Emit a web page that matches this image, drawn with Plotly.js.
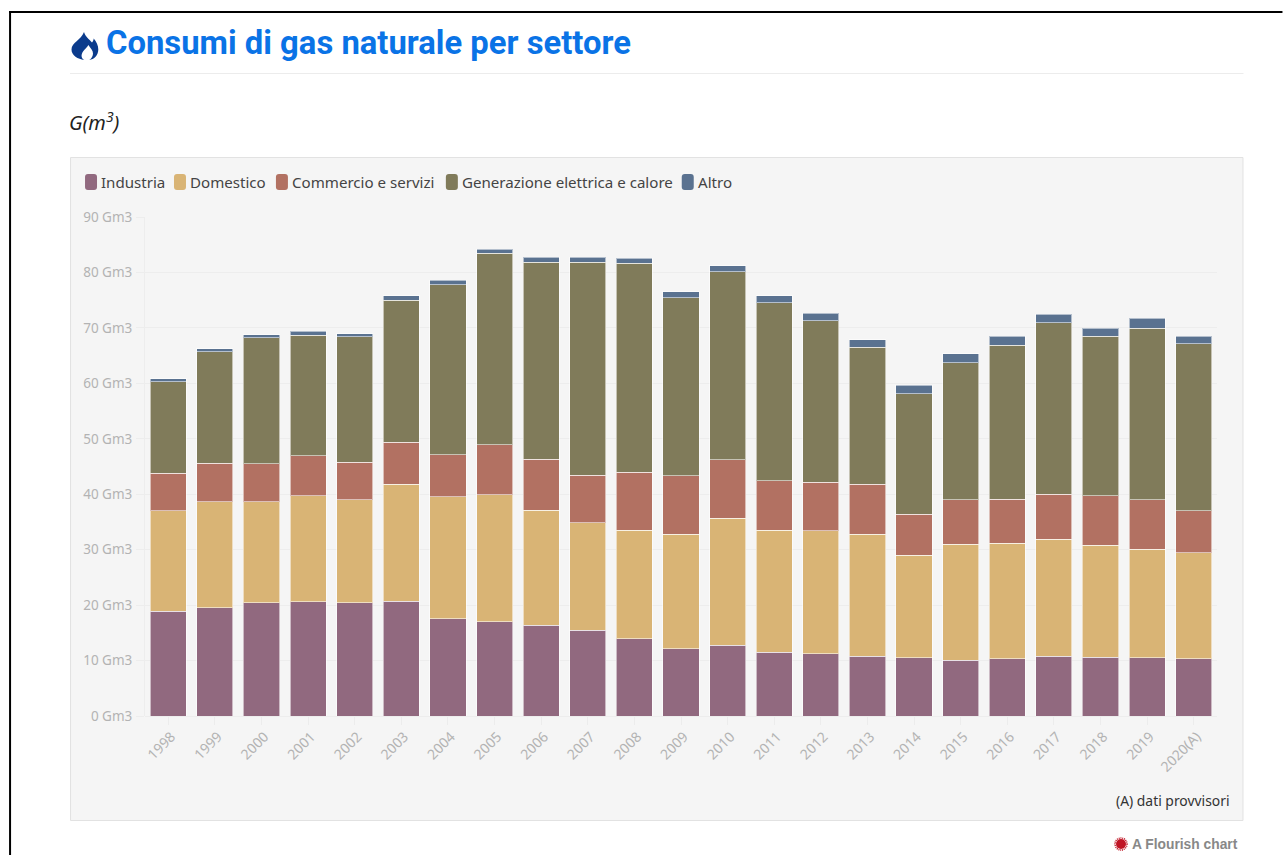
<!DOCTYPE html>
<html><head><meta charset="utf-8">
<script src="https://cdn.plot.ly/plotly-3.0.1.min.js"></script>
<style>html,body{margin:0;padding:0;background:#fff;overflow:hidden}
#c{position:absolute;left:0;top:0;width:1283px;height:855px}
svg.o{position:absolute;pointer-events:none}</style></head>
<body><div id="c"></div>
<svg class="o" style="left:70px;top:31px" width="30" height="30" viewBox="0 0 30 30"><path fill="#0b3b8c" d="M14 1c1.500 5 5 7 8 10.500 1.200-1.200 1.600-2.600 1.700-3.900 2.800 3.300 4.600 7 4.600 11 0 5.800-4.200 10-9 10.400 2.400-1.600 3.700-4 3.700-6.500 0-3.400-2.600-5.600-4.600-8.600-1 2-3.400 3.800-5 6-1.300 1.800-2 3.500-1.800 5.300.2 1.800 1.200 3 2.600 3.800C8 28.200 1.500 24.500 1.500 18.500 1.500 11.500 11 9 14 1z"/></svg>
<svg class="o" style="left:1114px;top:837px" width="14" height="14" viewBox="0 0 14 14"><circle cx="7" cy="7" r="5" fill="#c01525"/><circle cx="7" cy="7" r="6" fill="none" stroke="#c01525" stroke-width="1.500" stroke-dasharray="1 .8"/></svg>
<script>
const categories=["1998","1999","2000","2001","2002","2003","2004","2005","2006","2007","2008","2009","2010","2011","2012","2013","2014","2015","2016","2017","2018","2019","2020(A)"];
const industria=[18.9,19.5,20.4,20.6,20.4,20.7,17.5,17.0,16.4,15.5,13.9,12.1,12.8,11.5,11.2,10.8,10.5,10.1,10.3,10.8,10.6,10.5,10.3];
const domestico=[18.1,19.1,18.2,19.1,18.6,21.1,22.0,22.9,20.7,19.4,19.6,20.7,22.9,22.0,22.2,22.0,18.5,20.9,20.9,21.1,20.2,19.6,19.1];
const commercio=[6.8,7.0,6.9,7.2,6.8,7.6,7.6,9.0,9.2,8.5,10.5,10.5,10.5,8.9,8.8,9.0,7.4,8.0,7.9,8.1,8.9,8.9,7.6];
const generazione=[16.5,20.1,22.7,21.8,22.6,25.6,30.7,34.6,35.5,38.4,37.7,32.1,33.9,32.1,29.1,24.7,21.7,24.7,27.8,30.9,28.8,30.9,30.1];
const altro=[0.5,0.5,0.6,0.7,0.5,0.8,0.8,0.7,0.9,0.9,0.9,1.1,1.1,1.3,1.3,1.4,1.6,1.6,1.6,1.6,1.4,1.8,1.4];
const seriesNames=["Industria","Domestico","Commercio e servizi","Generazione elettrica e calore","Altro"];
const seriesValues=[industria,domestico,commercio,generazione,altro];
const colors=["#91697f","#d9b475","#b27162","#807b5a","#5a7290"];
const legendX=[85,174,276,446,682];

const W=1283,H=855,ml=145,mr=W-1217.5,mt=217,mb=H-716;
const px=x=>(x-ml)/(W-ml-mr), py=y=>1-(y-mt)/(H-mt-mb);
const font="'Noto Sans',sans-serif";

const traces=seriesNames.map((n,i)=>({type:"bar",name:n,x:categories,y:seriesValues[i],
  marker:{color:colors[i],line:{color:"rgba(255,255,255,0.55)",width:1}},hoverinfo:"x+y+name"}));

const rect=(x0,y0,x1,y1,fill,line)=>({type:"rect",xref:"paper",yref:"paper",layer:"below",
  x0:px(x0),x1:px(x1),y0:py(y0),y1:py(y1),fillcolor:fill,line:line?{color:line,width:1}:{width:0}});
const shapes=[
  rect(70.5,157.5,1243.5,820.5,"#f5f5f5","#e2e2e2"),
  rect(70,73,1244,74,"#ececec"),
  rect(9,11,1283,13,"#000"),
  rect(9,11,11,855,"#000")
];
const txt=(x,y,text,size,color,anchor,fam)=>({xref:"paper",yref:"paper",x:px(x),y:py(y),text,showarrow:false,
  xanchor:anchor||"left",yanchor:"middle",borderpad:0,borderwidth:0,xshift:anchor==="right"?1:-1,
  font:{family:fam||font,size,color}});
const annotations=[
  txt(107,43,"<b>Consumi di gas naturale per settore</b>",32.8,"#0a73e6","left","Roboto,sans-serif"),
  txt(70,121,"<i>G(m<sup>3</sup>)</i>",20,"#222"),
  txt(1230,800,"(A) dati provvisori",13.9,"#333","right"),
  txt(1238,844,"<b>A Flourish chart</b>",13.8,"#888","right","'Liberation Sans',Arial,sans-serif")
];
seriesNames.forEach((n,i)=>{
  const x=legendX[i];
  shapes.push({type:"path",xref:"paper",yref:"paper",layer:"below",fillcolor:colors[i],line:{width:0},
    path:`M${px(x+3)},${py(174)} L${px(x+9)},${py(174)} Q${px(x+12)},${py(174)} ${px(x+12)},${py(177)} L${px(x+12)},${py(187)} Q${px(x+12)},${py(190)} ${px(x+9)},${py(190)} L${px(x+3)},${py(190)} Q${px(x)},${py(190)} ${px(x)},${py(187)} L${px(x)},${py(177)} Q${px(x)},${py(174)} ${px(x+3)},${py(174)} Z`});
  annotations.push(txt(x+17,182,n,15.1,"#444"));
});

const layout={width:W,height:H,autosize:false,margin:{l:ml,r:mr,t:mt,b:mb,pad:0},
  paper_bgcolor:"#fff",plot_bgcolor:"rgba(0,0,0,0)",barmode:"stack",bargap:0.225,showlegend:false,
  font:{family:font},shapes,annotations,
  xaxis:{type:"category",tickmode:"array",tickvals:categories,ticktext:categories,tickangle:-45,
    tickfont:{family:font,size:14,color:"#b3b3b3"},ticks:"outside",ticklen:8,tickcolor:"#ececec",
    ticklabelshift:3,ticklabelstandoff:-2,
    showgrid:false,showline:false,zeroline:false,automargin:false},
  yaxis:{range:[0,90],tick0:0,dtick:10,ticksuffix:" Gm3",tickfont:{family:font,size:13.5,color:"#b3b3b3"},
    ticks:"outside",ticklen:8,tickcolor:"#ededed",gridcolor:"#ededed",gridwidth:1,ticklabelstandoff:1,
    zeroline:true,zerolinecolor:"#ededed",zerolinewidth:1,showline:true,linecolor:"#ededed",linewidth:1,automargin:false}
};
Plotly.newPlot("c",traces,layout,{displayModeBar:false,responsive:false});
</script></body></html>
